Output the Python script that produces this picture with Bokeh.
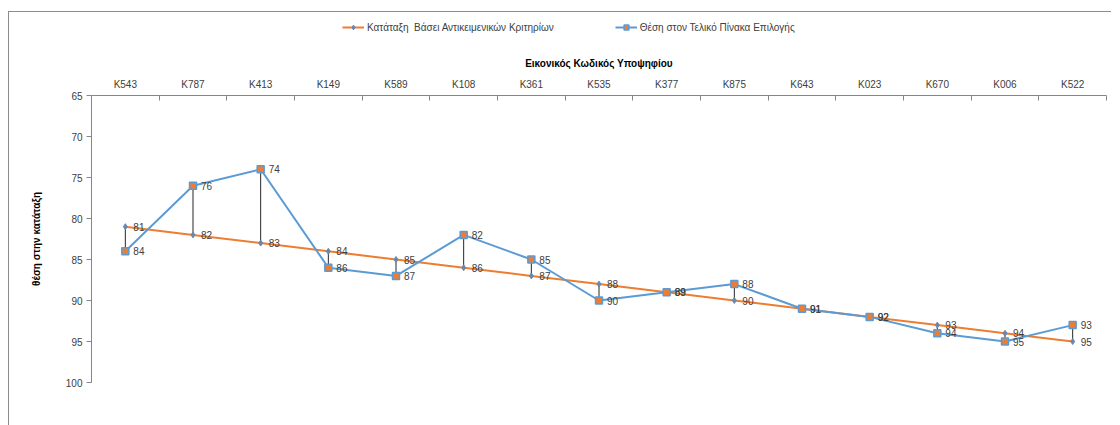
from bokeh.plotting import figure
from bokeh.layouts import column
from bokeh.models import Range1d, FixedTicker, Legend, LegendItem, ColumnDataSource
from bokeh.core.properties import value
from bokeh.embed import file_html
from bokeh.resources import INLINE

categories = ["K543", "K787", "K413", "K149", "K589", "K108", "K361", "K535",
              "K377", "K875", "K643", "K023", "K670", "K006", "K522"]
objective_rank = [81, 82, 83, 84, 85, 86, 87, 88, 89, 90, 91, 92, 93, 94, 95]
final_position = [84, 76, 74, 86, 87, 82, 85, 90, 89, 88, 91, 92, 94, 95, 93]
y_ticks = [65, 70, 75, 80, 85, 90, 95, 100]

series_names = ["Κατάταξη  Βάσει Αντικειμενικών Κριτηρίων",
                "Θέση στον Τελικό Πίνακα Επιλογής"]
x_title = "Εικονικός Κωδικός Υποψηφίου"
y_title = "θέση στην κατάταξη"

FONT = "Liberation Sans"
ORANGE = "#ED7D31"
BLUE = "#5B9BD5"
MARK = "#6a88ad"

n = len(categories)
xs = list(range(n))
src = ColumnDataSource(dict(
    x=xs, cat=categories, obj=objective_rank, fin=final_position,
    obj_lbl=[str(v) for v in objective_rank],
    fin_lbl=[str(v) for v in final_position],
))


def draw_series(fig):
    ol = fig.line("x", "obj", source=src, line_color=ORANGE, line_width=2)
    bl = fig.line("x", "fin", source=src, line_color=BLUE, line_width=2)
    om = fig.scatter("x", "obj", source=src, marker="diamond", size=6,
                     fill_color=MARK, line_color=MARK)
    bm = fig.scatter("x", "fin", source=src, marker="square", size=7,
                     fill_color=ORANGE, line_color=BLUE, line_width=1.5)
    return ol, bl, om, bm


# ---- legend strip (its own small figure, same frame alignment) ----
lg = figure(frame_width=1015, frame_height=30,
            min_border_left=82, min_border_right=5, min_border_top=0, min_border_bottom=0,
            x_range=Range1d(1000, 1001), y_range=Range1d(1000, 1001),
            x_axis_type=None, y_axis_type=None,
            output_backend="svg", toolbar_location=None, outline_line_color=None)
lg.grid.visible = False
l_ol, l_bl, l_om, l_bm = draw_series(lg)
legend = Legend(items=[LegendItem(label=series_names[0], renderers=[l_ol, l_om]),
                       LegendItem(label=series_names[1], renderers=[l_bl, l_bm])],
                orientation="horizontal", location=(251, 9), padding=0, margin=0,
                spacing=61, glyph_width=22, glyph_height=12, label_standoff=3,
                label_height=12, border_line_color=None, background_fill_alpha=0,
                label_text_font=FONT, label_text_font_size="10px",
                label_text_color="#404040")
lg.add_layout(legend)

# ---- main chart ----
p = figure(frame_width=1015, frame_height=287,
           min_border_left=82, min_border_top=53, min_border_right=5, min_border_bottom=43,
           x_range=Range1d(-0.5, n - 0.5), y_range=Range1d(100, 65),
           x_axis_location="above", output_backend="svg", toolbar_location=None,
           outline_line_color=None)
p.grid.visible = False

xa = p.xaxis[0]
xa.ticker = FixedTicker(ticks=xs, minor_ticks=[i - 0.5 for i in range(n + 1)])
xa.major_label_overrides = {i: c for i, c in enumerate(categories)}
xa.major_tick_in = 0
xa.major_tick_out = 0
xa.minor_tick_in = 5
xa.minor_tick_out = 0
xa.minor_tick_line_color = "#868686"
xa.axis_line_color = "#868686"
xa.major_label_standoff = 6
xa.major_label_text_font = FONT
xa.major_label_text_font_size = "10px"
xa.major_label_text_color = "#404040"
xa.axis_label = x_title
xa.axis_label_standoff = 7
xa.axis_label_text_font = FONT
xa.axis_label_text_font_size = "10px"
xa.axis_label_text_font_style = "bold"
xa.axis_label_text_color = "#000000"

ya = p.yaxis[0]
ya.ticker = FixedTicker(ticks=y_ticks)
ya.major_tick_in = 0
ya.major_tick_out = 5
ya.minor_tick_in = 0
ya.minor_tick_out = 0
ya.major_tick_line_color = "#868686"
ya.axis_line_color = "#868686"
ya.major_label_standoff = 4
ya.major_label_text_font = FONT
ya.major_label_text_font_size = "10px"
ya.major_label_text_color = "#404040"
ya.axis_label = y_title
ya.axis_label_standoff = 21
ya.axis_label_text_font = FONT
ya.axis_label_text_font_size = "10px"
ya.axis_label_text_font_style = "bold"
ya.axis_label_text_color = "#000000"

p.segment(x0="x", y0="obj", x1="x", y1="fin", source=src, line_color="#262626", line_width=1)
draw_series(p)

for col_y, col_t in (("obj", "obj_lbl"), ("fin", "fin_lbl")):
    p.text("x", col_y, text=col_t, source=src, x_offset=8, text_baseline="middle",
           text_align="left", text_font=value(FONT), text_font_size="10px",
           text_color="#404040")

page = column(lg, p, spacing=0,
              styles={"border-left": "1px solid #8c8c8c", "border-top": "1px solid #8c8c8c",
                      "margin-top": "11px", "margin-left": "8px"})

open("out.html", "w").write(file_html(page, INLINE))
